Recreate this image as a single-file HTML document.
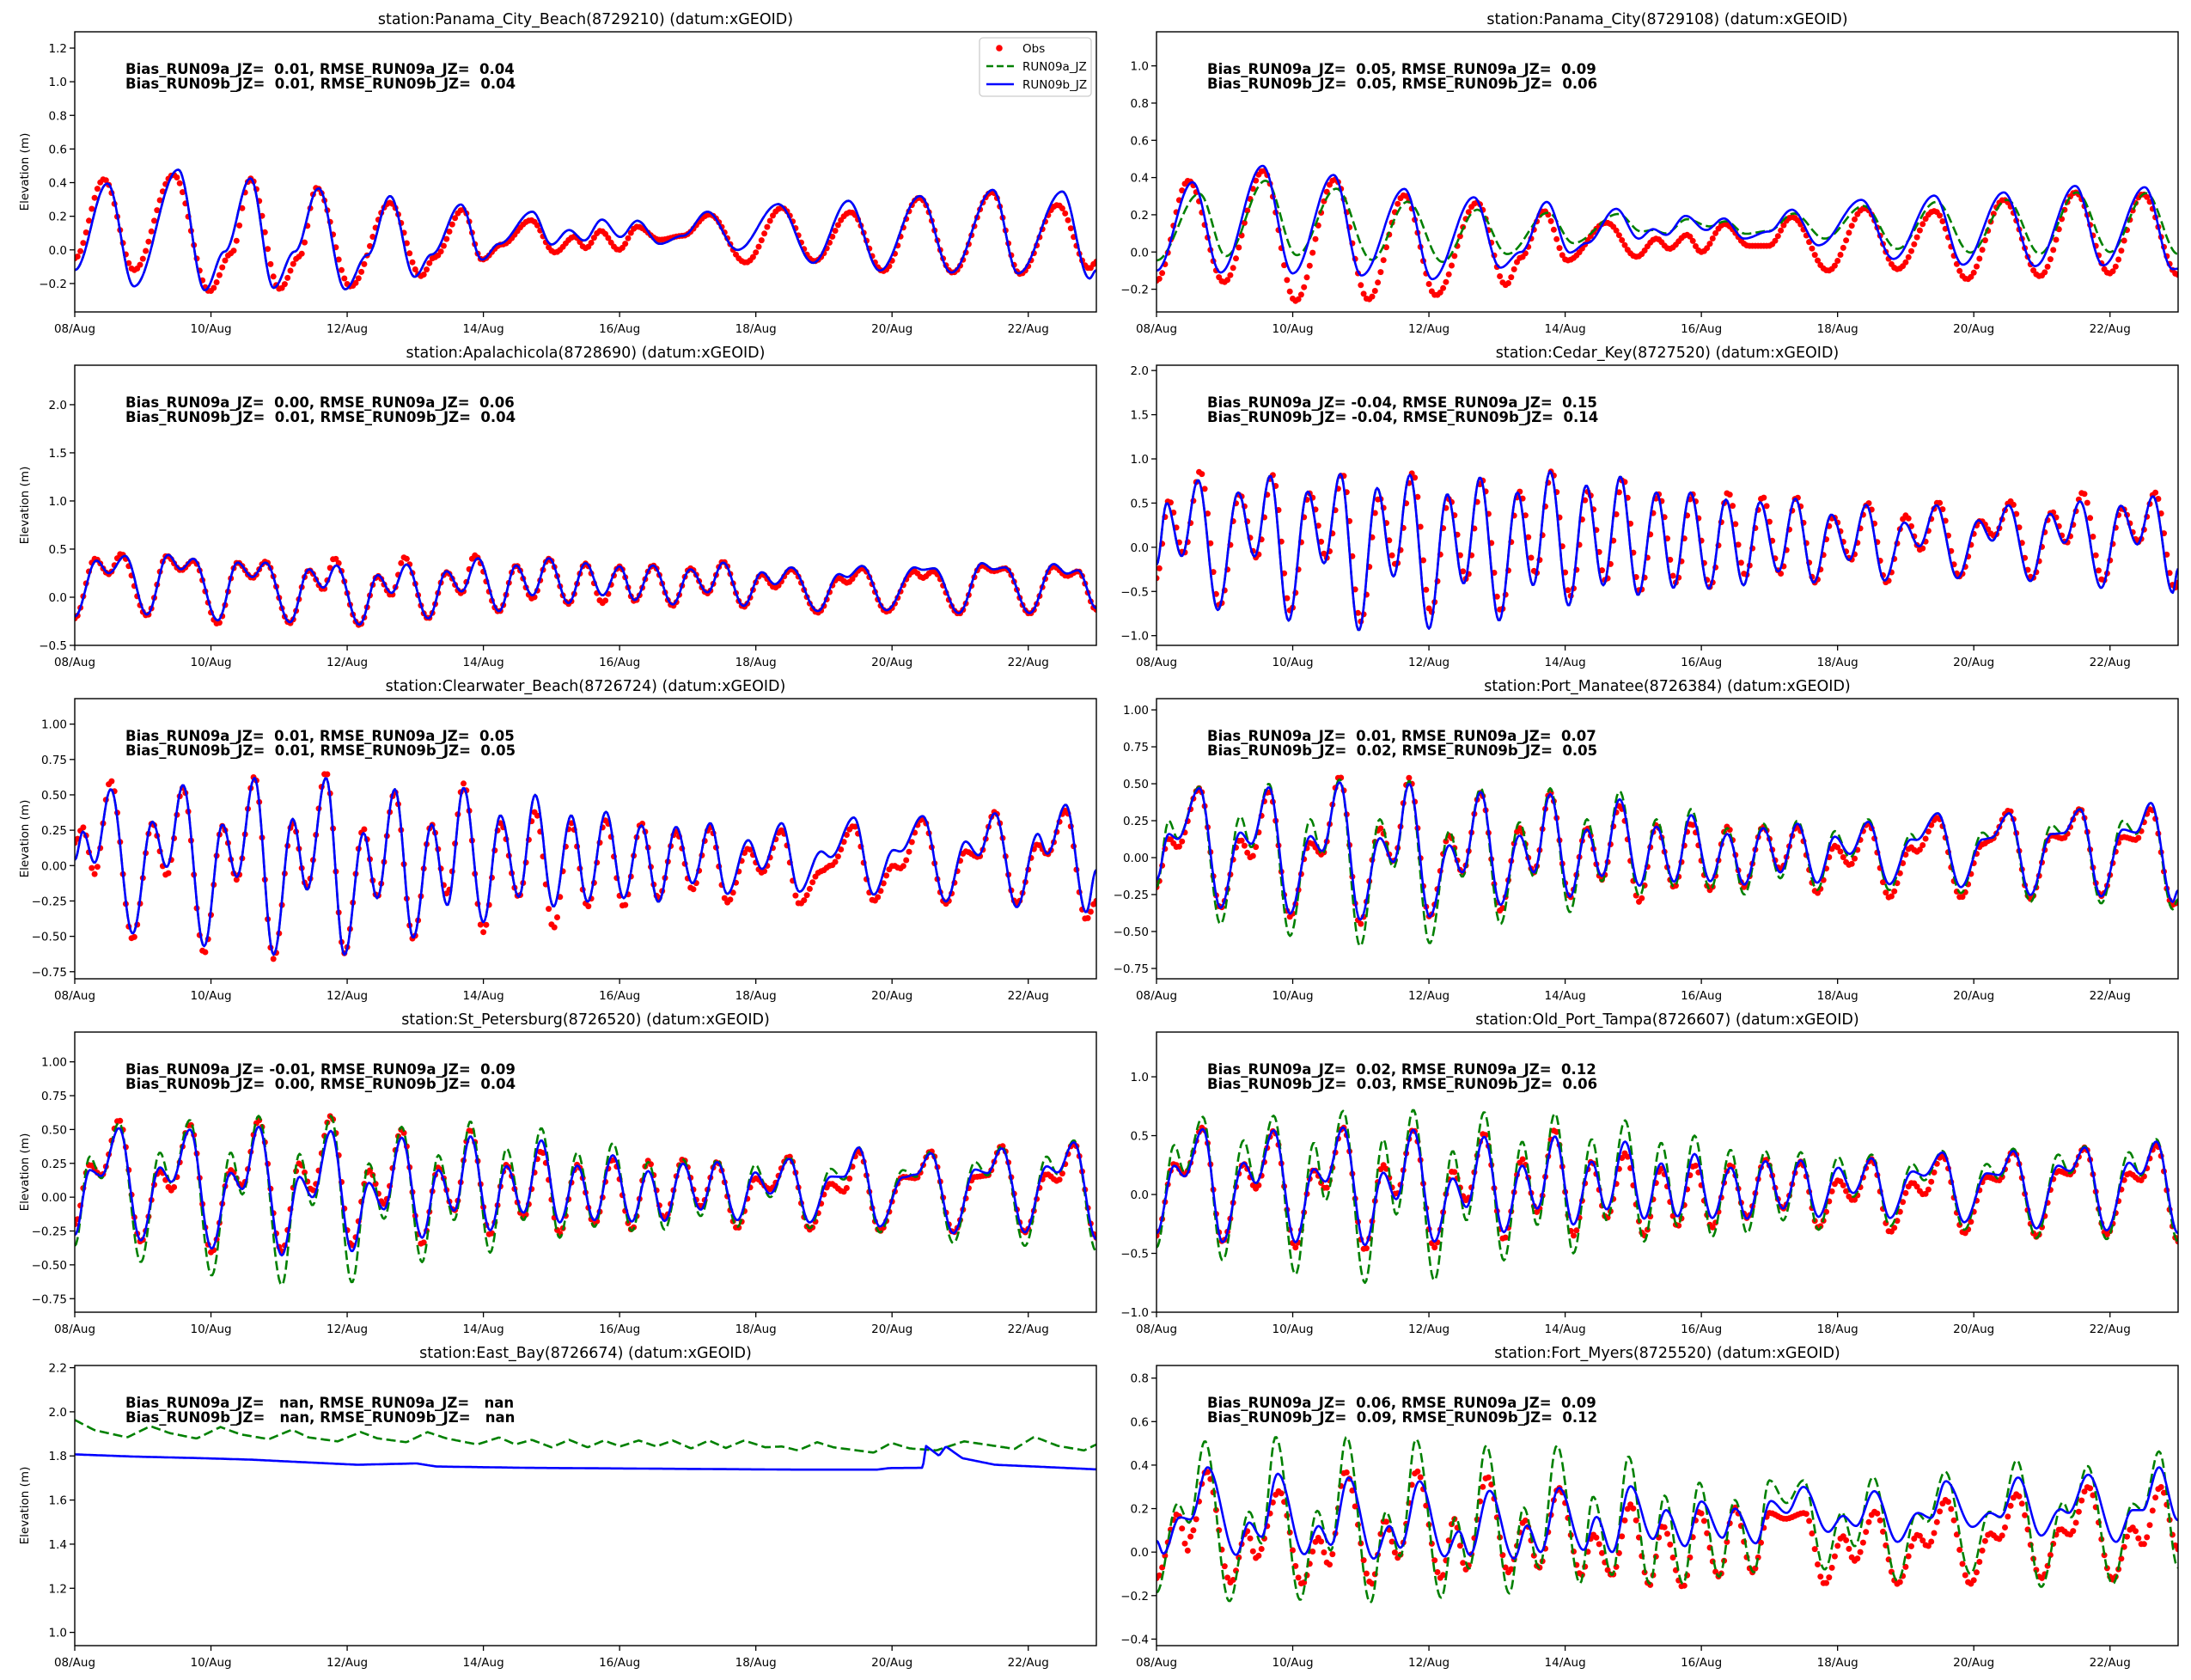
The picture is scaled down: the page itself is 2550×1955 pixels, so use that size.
<!DOCTYPE html>
<html><head><meta charset="utf-8"><style>
html,body{margin:0;padding:0;background:#fff;}
svg text{font-family:"DejaVu Sans","Liberation Sans",sans-serif;}
</style></head><body>
<svg id="fig" xmlns="http://www.w3.org/2000/svg" width="2550" height="1950" viewBox="0 0 2550 1950"></svg>
<script>
// ---------- data (day offset from 08/Aug 00:00, elevation m) ----------
const xTickDays = [0,2,4,6,8,10,12,14];
const xTickLabels = ["08/Aug","10/Aug","12/Aug","14/Aug","16/Aug","18/Aug","20/Aug","22/Aug"];
const stationTitles = ["station:Panama_City_Beach(8729210) (datum:xGEOID)","station:Panama_City(8729108) (datum:xGEOID)","station:Apalachicola(8728690) (datum:xGEOID)","station:Cedar_Key(8727520) (datum:xGEOID)","station:Clearwater_Beach(8726724) (datum:xGEOID)","station:Port_Manatee(8726384) (datum:xGEOID)","station:St_Petersburg(8726520) (datum:xGEOID)","station:Old_Port_Tampa(8726607) (datum:xGEOID)","station:East_Bay(8726674) (datum:xGEOID)","station:Fort_Myers(8725520) (datum:xGEOID)"];
const statA = ["Bias_RUN09a_JZ=  0.01, RMSE_RUN09a_JZ=  0.04","Bias_RUN09a_JZ=  0.05, RMSE_RUN09a_JZ=  0.09","Bias_RUN09a_JZ=  0.00, RMSE_RUN09a_JZ=  0.06","Bias_RUN09a_JZ= -0.04, RMSE_RUN09a_JZ=  0.15","Bias_RUN09a_JZ=  0.01, RMSE_RUN09a_JZ=  0.05","Bias_RUN09a_JZ=  0.01, RMSE_RUN09a_JZ=  0.07","Bias_RUN09a_JZ= -0.01, RMSE_RUN09a_JZ=  0.09","Bias_RUN09a_JZ=  0.02, RMSE_RUN09a_JZ=  0.12","Bias_RUN09a_JZ=   nan, RMSE_RUN09a_JZ=   nan","Bias_RUN09a_JZ=  0.06, RMSE_RUN09a_JZ=  0.09"];
const statB = ["Bias_RUN09b_JZ=  0.01, RMSE_RUN09b_JZ=  0.04","Bias_RUN09b_JZ=  0.05, RMSE_RUN09b_JZ=  0.06","Bias_RUN09b_JZ=  0.01, RMSE_RUN09b_JZ=  0.04","Bias_RUN09b_JZ= -0.04, RMSE_RUN09b_JZ=  0.14","Bias_RUN09b_JZ=  0.01, RMSE_RUN09b_JZ=  0.05","Bias_RUN09b_JZ=  0.02, RMSE_RUN09b_JZ=  0.05","Bias_RUN09b_JZ=  0.00, RMSE_RUN09b_JZ=  0.04","Bias_RUN09b_JZ=  0.03, RMSE_RUN09b_JZ=  0.06","Bias_RUN09b_JZ=   nan, RMSE_RUN09b_JZ=   nan","Bias_RUN09b_JZ=  0.09, RMSE_RUN09b_JZ=  0.12"];
const yTicks = [[-0.2,0,0.2,0.4,0.6,0.8,1.0,1.2],[-0.2,0,0.2,0.4,0.6,0.8,1.0],[-0.5,0,0.5,1.0,1.5,2.0],[-1.0,-0.5,0,0.5,1.0,1.5,2.0],[-0.75,-0.5,-0.25,0,0.25,0.5,0.75,1.0],[-0.75,-0.5,-0.25,0,0.25,0.5,0.75,1.0],[-0.75,-0.5,-0.25,0,0.25,0.5,0.75,1.0],[-1.0,-0.5,0,0.5,1.0],[1.0,1.2,1.4,1.6,1.8,2.0,2.2],[-0.4,-0.2,0,0.2,0.4,0.6,0.8]];
const yDecimals = [1,1,1,1,2,2,2,1,1,1];
const yMin = [-0.369,-0.322,-0.5,-1.11,-0.80,-0.82,-0.85,-1.0,0.94,-0.43];
const yMax = [1.297,1.183,2.41,2.06,1.18,1.076,1.22,1.38,2.21,0.858];

// Panel 1 Panama City Beach
const p1Blue=[0,-0.12,0.48,0.395,0.87,-0.217,1.52,0.477,1.91,-0.24,2.2,-0.01,2.58,0.425,2.92,-0.226,3.23,-0.01,3.58,0.366,3.97,-0.234,4.3,-0.03,4.63,0.32,4.99,-0.16,5.24,-0.027,5.67,0.27,5.98,-0.058,6.23,0.036,6.72,0.227,7.0,0.032,7.26,0.118,7.48,0.056,7.74,0.18,8.01,0.077,8.26,0.173,8.59,0.036,8.93,0.084,9.29,0.227,9.73,0.0,10.33,0.272,10.84,-0.077,11.36,0.292,11.82,-0.123,12.41,0.32,12.87,-0.135,13.48,0.357,13.85,-0.14,14.5,0.347,14.9,-0.17,15,-0.12];
const p1Green=p1Blue;
const p1Obs=[0,-0.05,0.43,0.42,0.87,-0.12,1.45,0.446,1.98,-0.246,2.3,-0.02,2.58,0.425,3.01,-0.232,3.3,-0.04,3.55,0.369,4.05,-0.217,4.63,0.28,5.09,-0.156,5.28,-0.044,5.7,0.24,5.98,-0.058,6.27,0.032,6.7,0.176,7.05,-0.015,7.34,0.079,7.5,0.01,7.72,0.113,7.99,0.0,8.26,0.138,8.59,0.06,8.93,0.084,9.32,0.21,9.85,-0.075,10.38,0.25,10.86,-0.067,11.39,0.224,11.87,-0.126,12.4,0.31,12.89,-0.135,13.47,0.344,13.88,-0.143,14.43,0.267,14.9,-0.11,15,-0.07];
// Panel 2 Panama City
const p2Blue=[0,-0.1,0.53,0.375,0.94,-0.11,1.56,0.463,2.0,-0.115,2.6,0.414,3.01,-0.126,3.64,0.339,4.05,-0.146,4.66,0.294,5.05,-0.084,5.35,0.0,5.73,0.269,6.07,-0.003,6.32,0.048,6.75,0.232,7.08,0.072,7.29,0.123,7.48,0.092,7.77,0.194,8.07,0.118,8.33,0.18,8.63,0.072,8.99,0.11,9.33,0.227,9.72,0.036,10.35,0.28,10.82,-0.037,11.42,0.303,11.84,-0.068,12.44,0.32,12.9,-0.076,13.49,0.355,13.9,-0.072,14.51,0.348,14.92,-0.092,15,-0.09];
const p2Green=[0,-0.045,0.63,0.313,1.02,-0.022,1.6,0.383,2.06,-0.017,2.64,0.34,3.16,-0.042,3.69,0.27,4.2,-0.053,4.71,0.227,5.15,-0.011,5.75,0.211,6.12,0.048,6.78,0.204,7.12,0.11,7.29,0.118,7.48,0.1,7.79,0.176,8.12,0.138,8.36,0.165,8.65,0.098,8.99,0.113,9.36,0.207,9.81,0.072,10.38,0.247,10.88,0.017,11.45,0.269,11.95,-0.003,12.49,0.28,12.97,-0.009,13.51,0.32,14.0,0.0,14.53,0.316,15,-0.011];
const p2Obs=[0,-0.154,0.47,0.383,0.99,-0.162,1.57,0.437,2.04,-0.263,2.62,0.39,3.11,-0.255,3.64,0.305,4.1,-0.232,4.71,0.266,5.13,-0.177,5.35,-0.03,5.69,0.22,6.03,-0.045,6.61,0.157,7.05,-0.026,7.34,0.072,7.53,0.017,7.79,0.092,8.0,0.0,8.34,0.15,8.7,0.033,8.99,0.033,9.33,0.188,9.86,-0.1,10.4,0.235,10.88,-0.092,11.42,0.22,11.9,-0.146,12.44,0.28,12.97,-0.13,13.49,0.32,13.99,-0.115,14.48,0.31,15,-0.123];
// Panel 3 Apalachicola
const p3Blue=[0,-0.2,0.32,0.38,0.5,0.25,0.74,0.43,1.06,-0.18,1.37,0.44,1.56,0.29,1.74,0.4,2.1,-0.24,2.39,0.36,2.61,0.21,2.8,0.36,3.16,-0.26,3.44,0.29,3.65,0.1,3.84,0.33,4.18,-0.285,4.45,0.23,4.65,0.045,4.87,0.34,5.19,-0.22,5.46,0.27,5.68,0.06,5.92,0.405,6.23,-0.144,6.48,0.33,6.72,0.02,6.96,0.405,7.25,-0.06,7.5,0.354,7.75,0.02,8.0,0.32,8.22,-0.03,8.49,0.33,8.78,-0.075,9.04,0.29,9.29,0.05,9.52,0.36,9.82,-0.09,10.09,0.26,10.28,0.135,10.52,0.31,10.91,-0.144,11.22,0.24,11.34,0.21,11.56,0.325,11.92,-0.135,12.33,0.31,12.45,0.285,12.62,0.3,12.98,-0.165,13.32,0.354,13.49,0.29,13.66,0.31,14.02,-0.165,14.37,0.345,14.57,0.246,14.73,0.28,15,-0.114];
const p3Green=p3Blue;
const p3Obs=[0,-0.22,0.3,0.4,0.5,0.24,0.68,0.45,1.06,-0.19,1.35,0.43,1.56,0.28,1.74,0.38,2.1,-0.276,2.39,0.36,2.61,0.2,2.8,0.37,3.16,-0.27,3.44,0.28,3.65,0.08,3.81,0.405,4.18,-0.29,4.45,0.22,4.65,0.02,4.84,0.414,5.19,-0.22,5.46,0.26,5.68,0.04,5.87,0.435,6.23,-0.15,6.48,0.33,6.72,-0.015,6.96,0.4,7.25,-0.07,7.5,0.35,7.75,-0.06,8.0,0.32,8.22,-0.04,8.49,0.33,8.78,-0.09,9.04,0.3,9.29,0.04,9.52,0.37,9.82,-0.1,10.09,0.24,10.28,0.1,10.52,0.29,10.91,-0.16,11.22,0.2,11.34,0.15,11.56,0.3,11.92,-0.15,12.33,0.27,12.45,0.2,12.6,0.27,12.98,-0.17,13.32,0.33,13.49,0.27,13.66,0.3,14.02,-0.17,14.37,0.32,14.57,0.22,14.73,0.27,15,-0.13];
// Panel 4 Cedar Key
const p4Blue=[0,-0.2,0.15,0.5,0.37,-0.1,0.61,0.76,0.9,-0.71,1.2,0.62,1.44,-0.105,1.67,0.81,1.94,-0.83,2.22,0.63,2.46,-0.18,2.7,0.83,2.97,-0.94,3.24,0.67,3.48,-0.33,3.72,0.82,4.0,-0.92,4.27,0.6,4.51,-0.41,4.75,0.79,5.03,-0.83,5.3,0.62,5.53,-0.43,5.78,0.86,6.05,-0.66,6.31,0.7,6.56,-0.43,6.81,0.8,7.07,-0.54,7.34,0.62,7.59,-0.46,7.84,0.62,8.11,-0.47,8.36,0.54,8.62,-0.43,8.86,0.51,9.13,-0.275,9.38,0.55,9.65,-0.4,9.91,0.37,10.17,-0.144,10.42,0.48,10.69,-0.377,10.98,0.28,11.2,0.01,11.45,0.475,11.76,-0.35,12.07,0.305,12.27,0.075,12.51,0.475,12.83,-0.383,13.12,0.38,13.33,0.05,13.56,0.52,13.87,-0.46,14.16,0.47,14.4,0.033,14.63,0.577,14.92,-0.515,15,-0.24];
const p4Green=p4Blue;
const p4Obs=[0,-0.35,0.18,0.53,0.4,-0.07,0.64,0.86,0.93,-0.66,1.22,0.6,1.47,-0.12,1.7,0.82,1.97,-0.72,2.25,0.61,2.5,-0.12,2.73,0.83,3.0,-0.84,3.27,0.56,3.52,-0.2,3.76,0.84,4.03,-0.74,4.3,0.55,4.55,-0.36,4.78,0.76,5.06,-0.72,5.33,0.63,5.57,-0.3,5.8,0.86,6.08,-0.55,6.34,0.63,6.6,-0.38,6.85,0.77,7.1,-0.5,7.37,0.6,7.63,-0.4,7.87,0.6,8.13,-0.45,8.39,0.62,8.65,-0.32,8.9,0.57,9.16,-0.3,9.4,0.57,9.67,-0.4,9.94,0.34,10.2,-0.14,10.45,0.5,10.72,-0.4,11.0,0.36,11.22,-0.03,11.48,0.51,11.79,-0.33,12.1,0.3,12.3,0.13,12.54,0.52,12.86,-0.35,13.15,0.4,13.36,0.05,13.6,0.62,13.9,-0.38,14.18,0.44,14.42,0.06,14.66,0.62,14.95,-0.46,15,-0.4];
// Panel 5 Clearwater Beach
const p5Blue=[0,0.04,0.12,0.24,0.29,0.02,0.53,0.54,0.85,-0.48,1.14,0.31,1.35,-0.01,1.59,0.57,1.9,-0.57,2.17,0.29,2.38,-0.08,2.64,0.62,2.92,-0.63,3.2,0.33,3.41,-0.17,3.69,0.62,3.96,-0.63,4.24,0.23,4.44,-0.23,4.7,0.54,4.97,-0.51,5.24,0.29,5.47,-0.28,5.71,0.55,6.0,-0.4,6.25,0.355,6.52,-0.22,6.76,0.5,7.03,-0.29,7.29,0.355,7.53,-0.256,7.8,0.38,8.06,-0.23,8.32,0.284,8.57,-0.256,8.83,0.274,9.07,-0.125,9.33,0.3,9.58,-0.2,9.89,0.18,10.09,-0.024,10.38,0.3,10.64,-0.185,10.96,0.1,11.1,0.06,11.44,0.34,11.73,-0.205,12.02,0.11,12.12,0.1,12.45,0.35,12.79,-0.254,13.08,0.17,13.27,0.073,13.51,0.37,13.83,-0.294,14.14,0.224,14.28,0.083,14.55,0.43,14.85,-0.33,15,-0.03];
const p5Green=p5Blue;
const p5Obs=[0,0.16,0.12,0.27,0.29,-0.06,0.53,0.6,0.85,-0.52,1.14,0.3,1.35,-0.07,1.59,0.55,1.9,-0.62,2.17,0.28,2.38,-0.1,2.64,0.63,2.92,-0.66,3.2,0.3,3.41,-0.15,3.69,0.66,3.96,-0.62,4.24,0.26,4.44,-0.22,4.7,0.52,4.97,-0.52,5.24,0.29,5.47,-0.2,5.71,0.58,6.0,-0.47,6.25,0.3,6.52,-0.22,6.76,0.38,7.03,-0.44,7.29,0.3,7.53,-0.29,7.8,0.32,8.06,-0.29,8.32,0.3,8.57,-0.23,8.83,0.24,9.07,-0.17,9.33,0.27,9.58,-0.26,9.89,0.12,10.09,-0.05,10.38,0.25,10.64,-0.27,10.96,-0.04,11.1,0.0,11.44,0.28,11.73,-0.25,12.02,0.0,12.12,-0.02,12.45,0.33,12.79,-0.27,13.08,0.1,13.27,0.06,13.51,0.38,13.83,-0.27,14.14,0.15,14.28,0.08,14.55,0.39,14.85,-0.38,15,-0.25];
// Panel 6 Port Manatee
const p6Blue=[0,-0.15,0.18,0.16,0.31,0.126,0.63,0.47,0.94,-0.34,1.23,0.17,1.39,0.093,1.65,0.476,1.96,-0.38,2.26,0.146,2.43,0.045,2.69,0.51,2.99,-0.42,3.28,0.132,3.48,-0.03,3.71,0.5,4.01,-0.4,4.3,0.084,4.49,-0.1,4.76,0.444,5.05,-0.32,5.33,0.15,5.54,-0.1,5.78,0.43,6.07,-0.266,6.32,0.19,6.54,-0.125,6.8,0.395,7.09,-0.19,7.34,0.21,7.6,-0.163,7.85,0.288,8.13,-0.16,8.38,0.16,8.63,-0.183,8.91,0.2,9.16,-0.1,9.41,0.23,9.7,-0.17,9.96,0.142,10.18,0.025,10.45,0.243,10.76,-0.18,11.08,0.123,11.16,0.12,11.47,0.3,11.81,-0.2,12.13,0.123,12.25,0.133,12.52,0.3,12.83,-0.253,13.14,0.16,13.31,0.165,13.56,0.327,13.87,-0.263,14.19,0.19,14.38,0.17,14.6,0.37,14.92,-0.3,15,-0.22];
const p6Green=[0,-0.2,0.18,0.25,0.31,0.13,0.63,0.48,0.94,-0.45,1.23,0.28,1.39,0.07,1.65,0.5,1.96,-0.53,2.26,0.26,2.43,0.02,2.69,0.53,2.99,-0.6,3.28,0.26,3.48,-0.07,3.71,0.52,4.01,-0.58,4.3,0.18,4.49,-0.13,4.76,0.47,5.05,-0.45,5.33,0.24,5.54,-0.13,5.78,0.47,6.07,-0.37,6.32,0.26,6.54,-0.16,6.8,0.45,7.09,-0.26,7.34,0.26,7.6,-0.2,7.85,0.33,8.13,-0.22,8.38,0.2,8.63,-0.25,8.91,0.23,9.16,-0.14,9.41,0.25,9.7,-0.22,9.96,0.18,10.18,0.0,10.45,0.26,10.76,-0.22,11.08,0.16,11.16,0.12,11.47,0.3,11.81,-0.24,12.13,0.17,12.25,0.13,12.52,0.3,12.83,-0.3,13.14,0.22,13.31,0.16,13.56,0.33,13.87,-0.31,14.19,0.25,14.38,0.16,14.6,0.37,14.92,-0.35,15,-0.28];
const p6Obs=[0,-0.2,0.18,0.13,0.31,0.07,0.63,0.47,0.94,-0.34,1.23,0.12,1.39,0.0,1.65,0.45,1.96,-0.4,2.26,0.1,2.43,0.02,2.69,0.55,2.99,-0.45,3.28,0.2,3.48,-0.03,3.71,0.54,4.01,-0.4,4.3,0.15,4.49,-0.1,4.76,0.44,5.05,-0.36,5.33,0.2,5.54,-0.1,5.78,0.44,6.07,-0.27,6.32,0.2,6.54,-0.15,6.8,0.35,7.09,-0.3,7.34,0.22,7.6,-0.2,7.85,0.23,8.13,-0.22,8.38,0.21,8.63,-0.2,8.91,0.21,9.16,-0.08,9.41,0.21,9.7,-0.24,9.96,0.08,10.18,-0.05,10.45,0.23,10.76,-0.27,11.08,0.07,11.16,0.04,11.47,0.27,11.81,-0.27,12.13,0.09,12.25,0.12,12.52,0.32,12.83,-0.28,13.14,0.15,13.31,0.13,13.56,0.33,13.87,-0.26,14.19,0.14,14.38,0.12,14.6,0.33,14.92,-0.32,15,-0.3];
// Panel 7 St Petersburg
const p7Blue=[0,-0.28,0.22,0.2,0.39,0.157,0.65,0.51,0.97,-0.32,1.25,0.22,1.42,0.113,1.69,0.5,2.01,-0.38,2.29,0.18,2.46,0.06,2.7,0.52,3.04,-0.43,3.3,0.15,3.49,0.0,3.76,0.49,4.07,-0.4,4.32,0.106,4.54,-0.09,4.8,0.44,5.1,-0.3,5.34,0.2,5.57,-0.1,5.81,0.45,6.1,-0.245,6.34,0.23,6.59,-0.115,6.85,0.42,7.12,-0.187,7.38,0.233,7.63,-0.17,7.9,0.31,8.18,-0.18,8.42,0.193,8.66,-0.176,8.93,0.248,9.19,-0.093,9.43,0.26,9.73,-0.17,9.99,0.183,10.21,0.026,10.49,0.283,10.79,-0.187,11.1,0.152,11.29,0.15,11.51,0.367,11.82,-0.217,12.16,0.146,12.35,0.167,12.57,0.324,12.9,-0.267,13.22,0.204,13.4,0.178,13.61,0.36,13.95,-0.26,14.27,0.228,14.43,0.183,14.67,0.406,15,-0.31];
const p7Green=[0,-0.36,0.22,0.3,0.39,0.14,0.65,0.55,0.97,-0.48,1.25,0.33,1.42,0.1,1.69,0.57,2.01,-0.58,2.29,0.33,2.46,0.02,2.7,0.6,3.04,-0.65,3.3,0.32,3.49,-0.06,3.76,0.6,4.07,-0.63,4.32,0.25,4.54,-0.16,4.8,0.52,5.1,-0.48,5.34,0.31,5.57,-0.17,5.81,0.56,6.1,-0.41,6.34,0.36,6.59,-0.17,6.85,0.51,7.12,-0.3,7.38,0.33,7.63,-0.22,7.9,0.4,8.18,-0.25,8.42,0.26,8.66,-0.24,8.93,0.28,9.19,-0.14,9.43,0.28,9.73,-0.22,9.99,0.24,10.21,0.0,10.49,0.3,10.79,-0.23,11.1,0.21,11.29,0.13,11.51,0.37,11.82,-0.26,12.16,0.2,12.35,0.15,12.57,0.34,12.9,-0.34,13.22,0.26,13.4,0.16,13.61,0.38,13.95,-0.36,14.27,0.3,14.43,0.17,14.67,0.42,15,-0.4];
const p7Obs=[0,-0.2,0.22,0.24,0.39,0.16,0.65,0.57,0.97,-0.33,1.25,0.2,1.42,0.05,1.69,0.54,2.01,-0.41,2.29,0.2,2.46,0.08,2.7,0.57,3.04,-0.4,3.3,0.25,3.49,0.05,3.76,0.6,4.07,-0.36,4.32,0.2,4.54,-0.05,4.8,0.5,5.1,-0.35,5.34,0.22,5.57,-0.1,5.81,0.5,6.1,-0.28,6.34,0.24,6.59,-0.15,6.85,0.34,7.12,-0.27,7.38,0.24,7.63,-0.2,7.9,0.28,8.18,-0.24,8.42,0.27,8.66,-0.16,8.93,0.28,9.19,-0.07,9.43,0.26,9.73,-0.23,9.99,0.14,10.21,0.06,10.49,0.3,10.79,-0.24,11.1,0.1,11.29,0.04,11.51,0.34,11.82,-0.25,12.16,0.15,12.35,0.14,12.57,0.34,12.9,-0.26,13.22,0.15,13.4,0.16,13.61,0.38,13.95,-0.26,14.27,0.17,14.43,0.12,14.67,0.4,15,-0.3];
// Panel 8 Old Port Tampa
const p8Blue=[0,-0.33,0.26,0.245,0.41,0.154,0.68,0.555,0.97,-0.405,1.28,0.27,1.46,0.097,1.72,0.546,2.04,-0.405,2.31,0.216,2.48,0.11,2.74,0.57,3.06,-0.43,3.33,0.186,3.52,-0.04,3.77,0.55,4.08,-0.4,4.35,0.136,4.55,-0.107,4.81,0.49,5.1,-0.32,5.37,0.245,5.59,-0.12,5.85,0.494,6.12,-0.255,6.39,0.28,6.61,-0.127,6.88,0.45,7.16,-0.206,7.41,0.265,7.65,-0.186,7.9,0.345,8.16,-0.2,8.43,0.228,8.67,-0.206,8.94,0.283,9.2,-0.12,9.46,0.29,9.72,-0.19,10.01,0.228,10.23,0.012,10.5,0.308,10.77,-0.2,11.1,0.196,11.27,0.16,11.54,0.357,11.86,-0.236,12.19,0.18,12.37,0.166,12.58,0.37,12.92,-0.288,13.24,0.245,13.41,0.2,13.63,0.4,13.95,-0.305,14.28,0.27,14.45,0.174,14.68,0.45,15,-0.33];
const p8Green=[0,-0.45,0.26,0.42,0.41,0.19,0.68,0.66,0.97,-0.56,1.28,0.46,1.46,0.09,1.72,0.67,2.04,-0.68,2.31,0.44,2.48,-0.05,2.74,0.71,3.06,-0.75,3.33,0.47,3.52,-0.17,3.77,0.72,4.08,-0.73,4.35,0.37,4.55,-0.22,4.81,0.7,5.1,-0.56,5.37,0.45,5.59,-0.26,5.85,0.69,6.12,-0.5,6.39,0.47,6.61,-0.22,6.88,0.63,7.16,-0.4,7.41,0.44,7.65,-0.27,7.9,0.5,8.16,-0.36,8.43,0.38,8.67,-0.33,8.94,0.37,9.2,-0.22,9.46,0.36,9.72,-0.3,10.01,0.32,10.23,-0.02,10.5,0.34,10.77,-0.27,11.1,0.26,11.27,0.12,11.54,0.37,11.86,-0.3,12.19,0.26,12.37,0.13,12.58,0.39,12.92,-0.37,13.24,0.34,13.41,0.18,13.63,0.41,13.95,-0.38,14.28,0.36,14.45,0.16,14.68,0.47,15,-0.4];
const p8Obs=[0,-0.35,0.26,0.26,0.41,0.17,0.68,0.57,0.97,-0.4,1.28,0.26,1.46,0.05,1.72,0.54,2.04,-0.45,2.31,0.21,2.48,0.05,2.74,0.57,3.06,-0.47,3.33,0.25,3.52,0.0,3.77,0.55,4.08,-0.45,4.35,0.2,4.55,-0.05,4.81,0.52,5.1,-0.38,5.37,0.3,5.59,-0.15,5.85,0.55,6.12,-0.35,6.39,0.28,6.61,-0.2,6.88,0.35,7.16,-0.35,7.41,0.22,7.65,-0.27,7.9,0.25,8.16,-0.28,8.43,0.25,8.67,-0.2,8.94,0.3,9.2,-0.12,9.46,0.28,9.72,-0.28,10.01,0.12,10.23,-0.05,10.5,0.3,10.77,-0.32,11.1,0.1,11.27,0.0,11.54,0.33,11.86,-0.33,12.19,0.15,12.37,0.12,12.58,0.37,12.92,-0.36,13.24,0.2,13.41,0.17,13.63,0.4,13.95,-0.34,14.28,0.18,14.45,0.12,14.68,0.42,15,-0.4];
// Panel 9 East Bay (no observations)
const p9Blue=[0,1.807,0.87,1.797,1.83,1.79,2.6,1.783,3.19,1.774,4.15,1.76,5.02,1.766,5.31,1.752,6.66,1.746,8.59,1.742,10.52,1.738,11.78,1.738,11.97,1.745,12.45,1.746,12.5,1.845,12.69,1.801,12.79,1.843,13.03,1.79,13.51,1.76,14.09,1.752,15,1.739];
const p9Green=[0,1.963,0.29,1.917,0.77,1.884,1.11,1.935,1.4,1.903,1.79,1.879,2.14,1.931,2.43,1.898,2.85,1.876,3.19,1.919,3.43,1.884,3.86,1.866,4.2,1.908,4.44,1.88,4.87,1.862,5.18,1.908,5.45,1.88,5.91,1.852,6.23,1.884,6.47,1.852,6.71,1.873,7.0,1.839,7.26,1.873,7.53,1.839,7.77,1.87,8.01,1.843,8.28,1.87,8.54,1.843,8.78,1.87,9.05,1.834,9.31,1.87,9.56,1.836,9.83,1.87,10.14,1.839,10.38,1.843,10.62,1.825,10.9,1.862,11.14,1.839,11.73,1.815,11.99,1.859,12.26,1.834,12.65,1.825,13.06,1.866,13.8,1.832,14.09,1.887,14.43,1.846,14.82,1.825,15,1.852];
const p9Obs=[];
// Panel 10 Fort Myers
const p10Blue=[0,0.053,0.1,-0.007,0.34,0.16,0.5,0.15,0.75,0.39,1.17,-0.013,1.36,0.136,1.54,0.07,1.78,0.36,2.17,-0.01,2.38,0.12,2.56,0.033,2.82,0.342,3.19,-0.03,3.42,0.12,3.58,0.02,3.86,0.326,4.23,-0.02,4.44,0.096,4.6,-0.013,4.89,0.282,5.25,-0.03,5.44,0.122,5.64,0.0,5.91,0.295,6.27,0.01,6.46,0.162,6.69,0.0,6.96,0.303,7.29,0.06,7.48,0.193,7.76,0.027,8.0,0.233,8.31,0.066,8.49,0.2,8.8,0.04,9.02,0.235,9.25,0.18,9.5,0.3,9.86,0.093,10.08,0.166,10.27,0.12,10.54,0.28,10.88,0.047,11.18,0.18,11.37,0.157,11.59,0.326,11.98,0.116,12.24,0.18,12.39,0.162,12.65,0.343,12.99,0.076,13.27,0.197,13.39,0.18,13.68,0.356,14.09,0.047,14.33,0.193,14.48,0.193,14.72,0.39,15,0.146];
const p10Green=[0,-0.186,0.31,0.223,0.48,0.135,0.71,0.51,1.07,-0.226,1.36,0.186,1.54,0.04,1.75,0.53,2.11,-0.22,2.36,0.19,2.56,0.007,2.79,0.53,3.14,-0.233,3.37,0.186,3.58,-0.02,3.81,0.52,4.18,-0.21,4.39,0.16,4.59,-0.077,4.84,0.49,5.18,-0.19,5.39,0.206,5.62,-0.073,5.88,0.49,6.22,-0.144,6.41,0.255,6.69,-0.106,6.93,0.44,7.24,-0.146,7.46,0.26,7.73,-0.146,7.97,0.32,8.26,-0.113,8.49,0.24,8.77,-0.093,9.0,0.33,9.25,0.226,9.5,0.33,9.81,-0.08,10.06,0.183,10.25,0.027,10.52,0.346,10.88,-0.133,11.16,0.18,11.32,0.14,11.58,0.37,11.95,-0.1,12.23,0.186,12.39,0.16,12.63,0.423,12.99,-0.16,13.31,0.229,13.43,0.16,13.67,0.396,14.04,-0.146,14.33,0.223,14.48,0.193,14.72,0.463,15,-0.073];
const p10Obs=[0,-0.12,0.31,0.175,0.46,0.007,0.52,0.093,0.73,0.372,1.09,-0.14,1.33,0.096,1.46,-0.027,1.8,0.28,2.14,-0.146,2.38,0.066,2.53,-0.06,2.77,0.37,3.16,-0.146,3.35,0.146,3.55,-0.027,3.82,0.372,4.18,-0.12,4.37,0.153,4.54,-0.08,4.86,0.346,5.17,-0.093,5.41,0.146,5.61,-0.073,5.91,0.295,6.24,-0.106,6.41,0.08,6.69,-0.106,6.96,0.219,7.24,-0.153,7.43,0.12,7.73,-0.16,7.97,0.186,8.26,-0.113,8.49,0.206,8.75,-0.093,9.0,0.18,9.23,0.153,9.52,0.18,9.81,-0.146,10.08,0.073,10.25,-0.04,10.55,0.186,10.88,-0.146,11.18,0.08,11.32,0.027,11.59,0.24,11.95,-0.146,12.24,0.086,12.37,0.06,12.63,0.266,12.99,-0.12,13.27,0.106,13.41,0.08,13.68,0.3,14.04,-0.126,14.33,0.113,14.48,0.033,14.74,0.3,15,0.013];

// ---------- layout ----------
const blues=[p1Blue,p2Blue,p3Blue,p4Blue,p5Blue,p6Blue,p7Blue,p8Blue,p9Blue,p10Blue];
const greens=[p1Green,p2Green,p3Green,p4Green,p5Green,p6Green,p7Green,p8Green,p9Green,p10Green];
const obss=[p1Obs,p2Obs,p3Obs,p4Obs,p5Obs,p6Obs,p7Obs,p8Obs,p9Obs,p10Obs];
const NS="http://www.w3.org/2000/svg";
const svg=document.getElementById('fig');
function mk(tag,attrs,parent){const e=document.createElementNS(NS,tag);for(const k in attrs)e.setAttribute(k,attrs[k]);(parent||svg).appendChild(e);return e;}
function interp(arr,d,linear){
  const n=arr.length/2;
  if(d<=arr[0])return arr[1];
  for(let i=0;i<n-1;i++){const d0=arr[2*i],d1=arr[2*i+2];
    if(d>=d0&&d<=d1){let t=(d-d0)/(d1-d0||1);if(!linear)t=(1-Math.cos(Math.PI*t))/2;return arr[2*i+1]+(arr[2*i+3]-arr[2*i+1])*t;}}
  return arr[2*n-1];
}
const defs=mk('defs',{});
for(let p=0;p<10;p++){
  const col=p%2,row=Math.floor(p/2);
  const L=col?1346:87, W=1189, T=37+row*388, H=326;
  const xs=d=>L+d/15*W;
  const ys=v=>T+H-(v-yMin[p])/(yMax[p]-yMin[p])*H;
  const g=mk('g',{});
  
  
  const cp=mk('clipPath',{id:'c'+p},defs);mk('rect',{x:L,y:T,width:W,height:H},cp);
  const tt=mk('text',{x:L+W/2,y:T-9,'text-anchor':'middle','font-size':'17.5'},g);tt.textContent=stationTitles[p];
  
  
  yTicks[p].forEach(v=>{const y=ys(v);
    mk('line',{x1:L-6,x2:L,y1:y,y2:y,stroke:'#000','stroke-width':1.3},g);
    const t=mk('text',{x:L-9,y:y+5,'text-anchor':'end','font-size':'13.5'},g);
    t.textContent=(v<0?'\u2212':'')+Math.abs(v).toFixed(yDecimals[p]);
    
    });
  xTickDays.forEach((d,i)=>{const x=xs(d);
    mk('line',{x1:x,x2:x,y1:T+H,y2:T+H+6,stroke:'#000','stroke-width':1.3},g);
    const t=mk('text',{x:x,y:T+H+24,'text-anchor':'middle','font-size':'13.5'},g);t.textContent=xTickLabels[i];
    
    });
  if(col===0){const yl=mk('text',{x:0,y:0,'text-anchor':'middle','font-size':'13.5',transform:`translate(33,${T+H/2}) rotate(-90)`},g);yl.textContent='Elevation (m)';
    
    }
  const plot=mk('g',{'clip-path':`url(#c${p})`},g);
  const lin=(p===8);
  const ob=obss[p];
  if(ob.length){for(let d=0;d<=15.0001;d+=1/24){const c=mk('circle',{cx:xs(d).toFixed(1),cy:ys(interp(ob,d,false)).toFixed(1),r:3.5,fill:'#ff0000'},plot);
    
    }}
  const line=(arr,color,dash,name)=>{let s='';for(let d=0;d<=15.0001;d+=0.02){s+=(s?'L':'M')+xs(d).toFixed(1)+','+ys(interp(arr,d,lin)).toFixed(1);}
    const e=mk('path',{d:s,fill:'none',stroke:color,'stroke-width':2.6,'stroke-dasharray':dash||'none','stroke-linejoin':'round'},plot);
    
    };
  line(greens[p],'#008000','11,5','run09a-line');
  line(blues[p],'#0000ff',null,'run09b-line');
  const fr=mk('rect',{x:L,y:T,width:W,height:H,fill:'none',stroke:'#000','stroke-width':1.4},g);
  
  
  const s1=mk('text',{x:L+59,y:T+49,'font-size':'16.5','font-weight':'bold','xml:space':'preserve'},g);s1.textContent=statA[p];
  
  
  const s2=mk('text',{x:L+59,y:T+66,'font-size':'16.5','font-weight':'bold','xml:space':'preserve'},g);s2.textContent=statB[p];
  
  
  s1.style.whiteSpace='pre';s2.style.whiteSpace='pre';
}
const lg=mk('g',{});


mk('rect',{x:1140,y:44,width:130,height:68,rx:4,fill:'#fff',stroke:'#ccc','stroke-width':1.3},lg);
mk('circle',{cx:1163,cy:56,r:3.8,fill:'#ff0000'},lg);
mk('line',{x1:1148,x2:1180,y1:77,y2:77,stroke:'#008000','stroke-width':2.6,'stroke-dasharray':'8,4'},lg);
mk('line',{x1:1148,x2:1180,y1:98,y2:98,stroke:'#0000ff','stroke-width':2.6},lg);
[['Obs',61],['RUN09a_JZ',82],['RUN09b_JZ',103]].forEach(a=>{const t=mk('text',{x:1190,y:a[1],'font-size':'13.5'},lg);t.textContent=a[0];
  
  });
</script>
</body></html>
